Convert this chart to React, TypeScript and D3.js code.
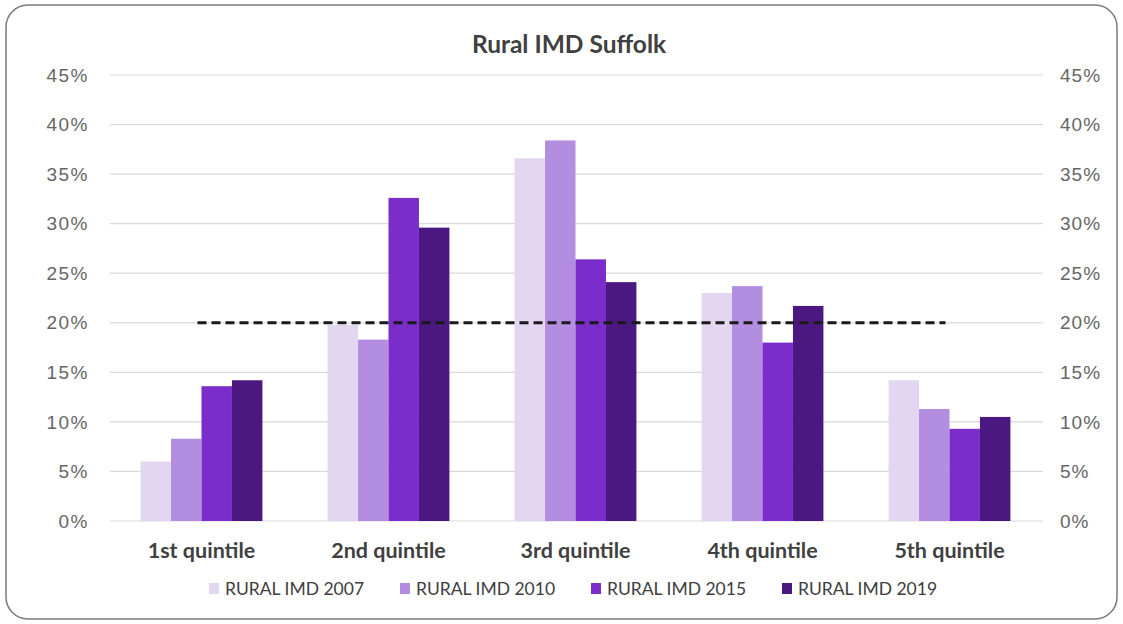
import { scaleLinear, scaleBand } from 'd3'

const CATEGORIES = ['1st quintile', '2nd quintile', '3rd quintile', '4th quintile', '5th quintile']
const SERIES = ['RURAL IMD 2007', 'RURAL IMD 2010', 'RURAL IMD 2015', 'RURAL IMD 2019']
const IMD_2007 = [6.0, 19.8, 36.6, 23.0, 14.2]
const IMD_2010 = [8.3, 18.3, 38.4, 23.7, 11.3]
const IMD_2015 = [13.6, 32.6, 26.4, 18.0, 9.3]
const IMD_2019 = [14.2, 29.6, 24.1, 21.7, 10.5]
const Y_TICKS = [0, 5, 10, 15, 20, 25, 30, 35, 40, 45]
const REFERENCE_LINE = 20

const COLORS = ['#e3d6f0', '#b38ddf', '#7a2dca', '#4a1880']

export default function App() {
  const width = 1123
  const height = 624
  const plot = { left: 108, right: 1043, top: 75, bottom: 521 }

  const values = [IMD_2007, IMD_2010, IMD_2015, IMD_2019]

  const x = scaleBand().domain(CATEGORIES).range([plot.left, plot.right])
  const xInner = scaleBand()
    .domain(SERIES)
    .range([0, x.bandwidth()])
    .paddingInner(0)
    .paddingOuter(1.07)
  const y = scaleLinear().domain([0, 45]).range([plot.bottom, plot.top])

  const font = 'Lato, "Open Sans", sans-serif'
  const tickFont = '"Liberation Sans", Arial, sans-serif'

  return (
    <svg width={width} height={height} style={{ position: 'absolute', left: 0, top: 0 }}>
      <rect x={0} y={0} width={width} height={height} fill='#ffffff' />
      {/* frame */}
      <rect x={6} y={5} width={1111} height={614} rx={22} ry={22} fill='#ffffff' stroke='#7a7a7a' strokeWidth={1.5} />

      {/* title */}
      <text x={569} y={53} textAnchor='middle' fontFamily={font} fontWeight={700} fontSize={24.5} fill='#404040'>
        Rural IMD Suffolk
      </text>

      {/* gridlines + tick labels */}
      {Y_TICKS.map((t) => (
        <g key={t} transform={`translate(0, ${y(t)})`}>
          <line x1={plot.left + 2} x2={plot.right} stroke='#d9d9d9' strokeWidth={1.2} />
          <text x={89} dy='0.35em' textAnchor='end' fontFamily={tickFont} fontSize={19} fill='#666666' letterSpacing={1.5}>
            {t}%
          </text>
          <text x={1060} dy='0.35em' textAnchor='start' fontFamily={tickFont} fontSize={19} fill='#666666' letterSpacing={1}>
            {t}%
          </text>
        </g>
      ))}

      {/* bars */}
      {CATEGORIES.map((c, ci) => (
        <g key={c} transform={`translate(${x(c)}, 0)`}>
          {SERIES.map((s, si) => (
            <rect
              key={s}
              x={xInner(s)}
              y={y(values[si][ci])}
              width={xInner.bandwidth()}
              height={y(0) - y(values[si][ci])}
              fill={COLORS[si]}
            />
          ))}
          <text
            x={x.bandwidth() / 2}
            y={558}
            textAnchor='middle'
            fontFamily={font}
            fontWeight={700}
            fontSize={21.5}
            fill='#404040'
          >
            {c}
          </text>
        </g>
      ))}

      {/* reference line */}
      <line
        x1={x(CATEGORIES[0])! + x.bandwidth() / 2 - 4}
        x2={x(CATEGORIES[CATEGORIES.length - 1])! + x.bandwidth() / 2 - 4}
        y1={y(REFERENCE_LINE)}
        y2={y(REFERENCE_LINE)}
        stroke='#1a1a1a'
        strokeWidth={3}
        strokeDasharray='9 5'
      />

      {/* legend */}
      {SERIES.map((s, i) => (
        <g key={s} transform={`translate(${209 + i * 191}, 589)`}>
          <rect x={0} y={-6} width={10} height={11} fill={COLORS[i]} />
          <text x={16} dy='0.35em' fontFamily={font} fontSize={17.5} fill='#404040'>
            {s}
          </text>
        </g>
      ))}
    </svg>
  )
}
